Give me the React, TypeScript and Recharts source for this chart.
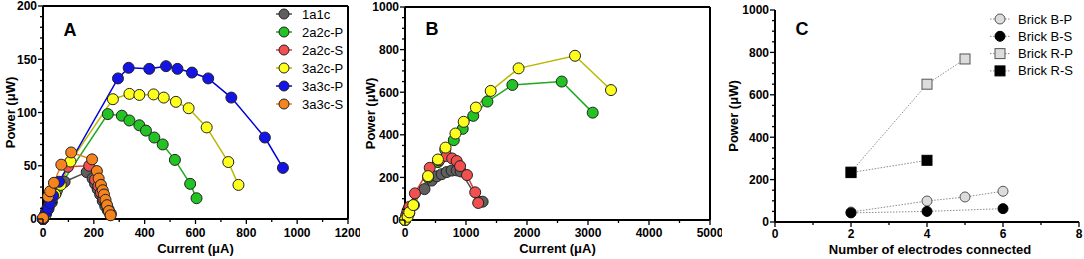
import { LineChart, Line, XAxis, YAxis, ReferenceLine, Legend, Label } from 'recharts';

// panel A: power vs current, single brick stacks
const namesA = ['1a1c', '2a2c-P', '2a2c-S', '3a2c-P', '3a3c-P', '3a3c-S'];
const a1a1c = [[0, 0], [8, 4], [17, 10], [28, 16], [50, 24], [85, 35], [172, 44], [195, 38], [205, 33], [215, 28], [225, 23], [235, 17], [245, 12], [255, 8], [265, 4]];
const a2a2cP = [[0, 0], [12, 5], [22, 10], [35, 16], [55, 27], [255, 98.5], [310, 97], [340, 92.5], [379, 88], [405, 83], [438, 76.5], [471, 70], [519, 55.5], [579, 33], [604, 19.5]];
const a2a2cS = [[0, 0], [12, 7], [25, 14], [40, 24], [60, 33], [98, 49], [182, 50], [205, 37], [218, 31], [228, 25], [238, 19], [248, 14], [258, 9], [267, 5]];
const a3a2cP = [[0, 0], [10, 4], [20, 9], [32, 15], [48, 23], [70, 32], [108, 54], [275, 112.5], [340, 117.5], [379, 116.5], [435, 117], [475, 114], [523, 110], [573, 104], [644, 86], [729, 53.5], [769, 32]];
const a3a3cP = [[0, 0], [12, 6], [20, 10], [28, 15], [40, 22], [63, 35], [295, 132], [337, 142], [418, 141], [484, 143.5], [529, 141], [586, 137.5], [650, 132], [741, 114], [873, 76.5], [944, 48]];
const a3a3cS = [[0, 1], [20, 21], [28, 26], [43, 34], [72, 51], [111, 62.5], [193, 56], [212, 45], [219, 38], [228, 32], [235, 27], [240, 23], [246, 18], [252, 13], [259, 7.5], [266, 3.5]];

// panel B: power vs current, larger stacks
const b1a1c = [[0, 0], [15, 12], [30, 28], [60, 55], [320, 145], [437, 185], [519, 205], [601, 215], [683, 225], [765, 232], [847, 233], [913, 228], [1218, 86], [1273, 86]];
const b2a2cP = [[0, 0], [20, 10], [35, 18], [70, 32], [146, 70], [380, 200], [540, 272], [660, 330], [800, 375], [946, 428], [1119, 489], [1351, 556], [1760, 634], [2569, 650], [3077, 504]];
const b2a2cS = [[0, 0], [20, 22], [40, 42], [71, 62], [162, 125], [405, 245], [560, 280], [683, 300], [773, 289], [847, 277], [903, 253], [1016, 211], [1151, 130], [1200, 80]];
const b3a2cP = [[0, 0], [43, 15], [70, 36], [135, 70], [378, 206], [540, 284], [665, 340], [827, 406], [962, 461], [1162, 528], [1405, 606], [1862, 712], [2787, 771], [3377, 610]];

// panel C: power vs number of electrodes
const namesC = ['Brick B-P', 'Brick B-S', 'Brick R-P', 'Brick R-S'];
const electrodesBP = [2, 4, 5, 6];
const powerBP = [47, 99, 118, 145];
const electrodesBS = [2, 4, 6];
const powerBS = [43, 50, 63];
const electrodesRP = [2, 4, 5];
const powerRP = [236, 650, 769];
const electrodesRS = [2, 4];
const powerRS = [233, 291];

const ticksAx = [0, 100, 200, 300, 400, 500, 600, 700, 800, 900, 1000, 1100, 1200];
const majorAx = [0, 200, 400, 600, 800, 1000, 1200];
const ticksAy = Array.from({ length: 21 }, (_, i) => i * 10);
const majorAy = [0, 50, 100, 150, 200];
const ticksBx = [0, 500, 1000, 1500, 2000, 2500, 3000, 3500, 4000, 4500, 5000];
const majorBx = [0, 1000, 2000, 3000, 4000, 5000];
const ticksBy = Array.from({ length: 21 }, (_, i) => i * 50);
const majorBy = [0, 200, 400, 600, 800, 1000];
const ticksCx = [0, 1, 2, 3, 4, 5, 6, 7, 8];
const majorCx = [0, 2, 4, 6, 8];

const FONT = '"Liberation Sans", Arial, sans-serif';
const fillA = ['#5f5f5f', '#22c322', '#f24f4f', '#ffff1e', '#1414e6', '#f5841f'];
const strokeA = ['#505050', '#1fa81f', '#ee3a3a', '#b8b800', '#0000dd', '#f07f18'];

const pts = (pairs: number[][]) => pairs.map(([x, y]) => ({ x, y }));
const zip = (xs: number[], ys: number[]) => xs.map((x, i) => ({ x, y: ys[i] }));

const yTick = (major: number[]) => (p: any) => {
  const isMajor = major.includes(p.payload.value);
  return (
    <g>
      <line x1={p.x} x2={p.x - (isMajor ? 5 : 3)} y1={p.y} y2={p.y} stroke="#000" strokeWidth={1.3} />
      {isMajor && (
        <text x={p.x - 6} y={p.y} dy={4.3} textAnchor="end" fontSize={12} fontWeight="bold" fontFamily={FONT} fill="#000">
          {p.payload.value}
        </text>
      )}
    </g>
  );
};

const xTick = (major: number[], off = 18) => (p: any) => {
  const isMajor = major.includes(p.payload.value);
  return (
    <g>
      <line x1={p.x} x2={p.x} y1={p.y} y2={p.y + (isMajor ? 5 : 3)} stroke="#000" strokeWidth={1.3} />
      {isMajor && (
        <text x={p.x} y={p.y + off} textAnchor="middle" fontSize={12} fontWeight="bold" fontFamily={FONT} fill="#000">
          {p.payload.value}
        </text>
      )}
    </g>
  );
};

const txt = (x: number, y: number, s: string, size = 13, rotate = false) => () => (
  <text
    x={x}
    y={y}
    textAnchor="middle"
    fontSize={size}
    fontWeight="bold"
    fontFamily={FONT}
    fill="#000"
    transform={rotate ? `rotate(-90 ${x} ${y})` : undefined}
  >
    {s}
  </text>
);

const legendA = () => (
  <svg width={80} height={112}>
    {namesA.map((n, i) => (
      <g key={n} transform={`translate(0 ${9 + i * 18})`}>
        <line x1={0} x2={16} y1={0} y2={0} stroke={strokeA[i]} strokeWidth={1.5} />
        <circle cx={8} cy={0} r={5} fill={fillA[i]} stroke="#222" strokeWidth={1} />
        <text x={26} y={4.5} fontSize={13} fontFamily={FONT} fill="#000">{n}</text>
      </g>
    ))}
  </svg>
);

const markerC = (i: number, cx: number, cy: number) => {
  const fill = i % 2 === 0 ? '#dcdcdc' : '#000';
  const stroke = i % 2 === 0 ? '#555' : '#000';
  return i < 2
    ? <circle cx={cx} cy={cy} r={5} fill={fill} stroke={stroke} strokeWidth={1} />
    : <rect x={cx - 5} y={cy - 5} width={10} height={10} fill={fill} stroke={stroke} strokeWidth={1} />;
};

const legendC = () => (
  <svg width={100} height={72}>
    {namesC.map((n, i) => (
      <g key={n} transform={`translate(0 ${9 + i * 17.3})`}>
        <line x1={0} x2={20} y1={0} y2={0} stroke="#888" strokeWidth={1} strokeDasharray="1.5 1.5" />
        {markerC(i, 10, 0)}
        <text x={28} y={4.5} fontSize={13} fontFamily={FONT} fill="#000">{n}</text>
      </g>
    ))}
  </svg>
);

const dotC = (i: number) => (p: any) => <g key={`c${i}-${p.index}`}>{markerC(i, p.cx, p.cy)}</g>;

const seriesA = [a1a1c, a2a2cP, a2a2cS, a3a2cP, a3a3cP, a3a3cS];
const seriesB = [b1a1c, b2a2cP, b2a2cS, b3a2cP];
const seriesC = [zip(electrodesBP, powerBP), zip(electrodesBS, powerBS), zip(electrodesRP, powerRP), zip(electrodesRS, powerRS)];

const axisLine = { stroke: '#000', strokeWidth: 2 };

export default function App() {
  return (
    <div style={{ position: 'absolute', left: 0, top: 0, width: 1084, height: 259, background: '#fff', fontFamily: FONT }}>
      <div style={{ position: 'absolute', left: 0, top: 0 }}>
        <LineChart width={360} height={259} margin={{ top: 6, right: 12, bottom: 0, left: 0 }}>
          <XAxis type="number" dataKey="x" domain={[0, 1200]} ticks={ticksAx} interval={0} height={40}
            tickSize={0} tickMargin={0} tickLine={false} axisLine={axisLine} tick={xTick(majorAx, 17.5)}>
            <Label content={txt(195.5, 253, 'Current (\u03bcA)')} />
          </XAxis>
          <YAxis type="number" domain={[0, 200]} ticks={ticksAy} interval={0} width={43}
            tickSize={0} tickMargin={0} tickLine={false} axisLine={axisLine} tick={yTick(majorAy)}>
            <Label content={txt(15, 112.5, 'Power (\u03bcW)', 13, true)} />
            <Label content={txt(70, 36, 'A', 18)} />
          </YAxis>
          <ReferenceLine y={200} stroke="#000" strokeWidth={2} />
          <ReferenceLine x={1200} stroke="#000" strokeWidth={2} />
          <Legend layout="vertical" align="center" verticalAlign="middle" content={legendA}
            wrapperStyle={{ left: 276, top: 5, width: 80 }} />
          {seriesA.map((s, i) => (
            <Line key={namesA[i]} data={pts(s)} dataKey="y" stroke={strokeA[i]} strokeWidth={1.5}
              dot={{ r: 5.5, fill: fillA[i], stroke: '#222', strokeWidth: 1 }} activeDot={false} isAnimationActive={false} />
          ))}
        </LineChart>
      </div>
      <div style={{ position: 'absolute', left: 360, top: 0 }}>
        <LineChart width={362} height={259} margin={{ top: 7, right: 12, bottom: 0, left: 0 }}>
          <XAxis type="number" dataKey="x" domain={[0, 5000]} ticks={ticksBx} interval={0} height={39}
            tickSize={0} tickMargin={0} tickLine={false} axisLine={axisLine} tick={xTick(majorBx, 17)}>
            <Label content={txt(197.5, 253, 'Current (\u03bcA)')} />
          </XAxis>
          <YAxis type="number" domain={[0, 1000]} ticks={ticksBy} interval={0} width={45}
            tickSize={0} tickMargin={0} tickLine={false} axisLine={axisLine} tick={yTick(majorBy)}>
            <Label content={txt(15, 113.5, 'Power (\u03bcW)', 13, true)} />
            <Label content={txt(72, 35, 'B', 18)} />
          </YAxis>
          <ReferenceLine y={1000} stroke="#000" strokeWidth={2} />
          <ReferenceLine x={5000} stroke="#000" strokeWidth={2} />
          {seriesB.map((s, i) => (
            <Line key={namesA[i]} data={pts(s)} dataKey="y" stroke={strokeA[i]} strokeWidth={1.5}
              dot={{ r: 5.5, fill: fillA[i], stroke: '#222', strokeWidth: 1 }} activeDot={false} isAnimationActive={false} />
          ))}
        </LineChart>
      </div>
      <div style={{ position: 'absolute', left: 722, top: 0 }}>
        <LineChart width={362} height={259} margin={{ top: 10, right: 5, bottom: 0, left: 0 }}>
          <XAxis type="number" dataKey="x" domain={[0, 8]} ticks={ticksCx} interval={0} height={37}
            tickSize={0} tickMargin={0} tickLine={false} axisLine={axisLine} tick={xTick(majorCx, 15.5)}>
            <Label content={txt(208, 254, 'Number of electrodes connected')} />
          </XAxis>
          <YAxis type="number" domain={[0, 1000]} ticks={ticksBy} interval={0} width={53}
            tickSize={0} tickMargin={0} tickLine={false} axisLine={axisLine} tick={yTick(majorBy)}>
            <Label content={txt(16, 116, 'Power (\u03bcW)', 13, true)} />
            <Label content={txt(80, 35, 'C', 18)} />
          </YAxis>
          <Legend layout="vertical" align="center" verticalAlign="middle" content={legendC}
            wrapperStyle={{ left: 268, top: 10, width: 100 }} />
          {seriesC.map((s, i) => (
            <Line key={namesC[i]} data={s} dataKey="y" stroke="#8a8a8a" strokeWidth={1} strokeDasharray="1.5 1.5"
              dot={dotC(i)} activeDot={false} isAnimationActive={false} />
          ))}
        </LineChart>
      </div>
    </div>
  );
}
